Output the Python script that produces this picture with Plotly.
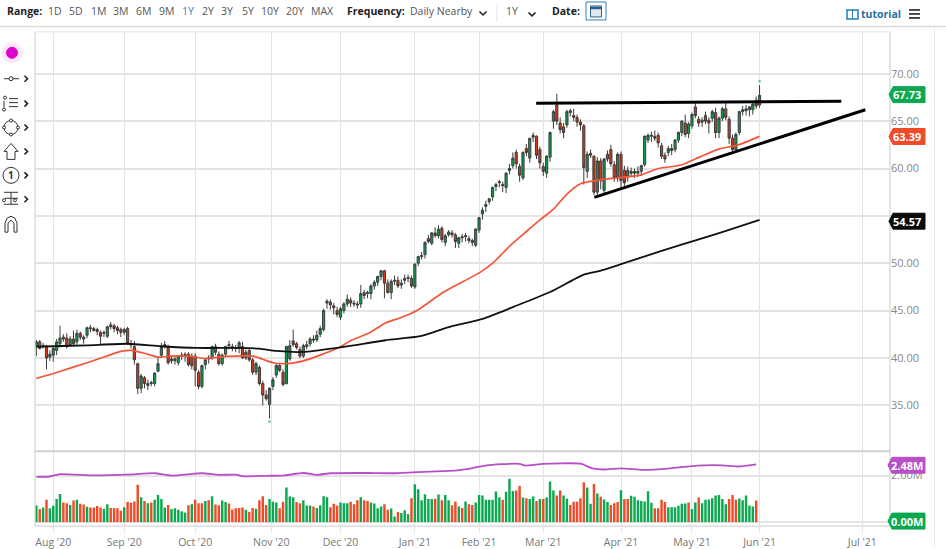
# Crude oil daily chart with moving averages, trend lines and a volume pane
import plotly.graph_objects as go

W = 946
H = 549

opens = [41.2,41.7,41.2,41.2,40.1,40.3,40.8,41.5,42.2,42.1,
         41.4,42.0,41.7,42.6,42.2,42.4,43.2,43.1,43.0,42.7,
         42.6,42.3,43.3,43.4,43.2,43.0,42.7,43.1,41.5,41.2,
         39.4,36.8,37.9,37.1,37.3,37.3,38.6,40.3,41.3,41.2,
         39.9,39.7,39.5,40.2,40.2,40.4,40.2,40.2,38.5,37.0,
         39.3,39.9,40.0,41.2,40.4,39.4,40.4,41.3,41.2,41.0,
         41.0,41.2,40.0,40.8,39.8,38.5,39.0,37.3,36.1,35.1,
         37.0,38.2,39.2,38.5,37.3,39.9,41.8,41.5,40.9,40.2,
         41.2,41.5,42.0,41.9,42.5,43.0,45.8,45.9,45.5,45.0,
         44.3,45.0,45.7,46.1,45.8,45.7,45.7,46.9,46.8,46.8,
         47.6,48.0,48.6,49.2,47.9,46.9,48.1,48.2,47.7,48.2,
         48.4,48.4,47.5,50.0,50.7,50.9,52.6,52.1,53.2,52.9,
         53.7,52.2,53.0,53.2,53.0,52.1,52.8,52.8,52.6,52.4,
         51.9,53.5,55.2,56.0,56.5,57.0,58.1,58.5,58.3,58.0,
         59.8,60.3,61.7,60.2,59.0,62.1,61.1,63.3,63.4,62.0,
         60.2,59.5,61.2,65.0,66.7,64.8,64.4,64.6,65.9,65.6,
         65.4,64.9,64.5,59.7,61.6,61.3,57.5,60.8,57.7,61.5,
         62.0,60.4,59.0,61.5,59.8,59.2,59.7,59.5,59.5,59.7,
         60.4,63.0,63.4,63.4,63.5,62.4,61.4,61.7,62.1,62.0,
         63.0,63.8,64.8,63.7,64.5,66.5,65.2,64.9,65.6,65.1,
         65.3,65.9,63.8,65.3,66.3,65.2,63.2,62.0,63.8,66.0,
         66.1,66.2,66.2,67.2,66.7]
highs = [41.9,41.9,41.6,41.4,40.8,41.2,42.0,43.4,42.5,42.6,
         42.3,42.9,43.0,42.8,42.4,43.3,43.5,43.3,43.2,42.9,
         42.9,43.4,43.8,43.6,43.4,43.2,43.2,43.3,41.9,41.8,
         39.5,38.3,38.1,37.7,37.6,38.5,40.0,41.6,41.8,41.4,
         40.3,40.1,40.3,40.6,40.6,40.6,40.5,40.5,38.7,39.3,
         40.0,40.3,41.3,41.5,40.7,40.5,41.3,41.8,41.5,41.4,
         41.8,41.7,40.9,41.1,40.0,39.6,39.2,37.6,36.6,36.9,
         38.0,39.4,39.4,38.8,41.3,41.9,43.0,41.7,41.2,41.5,
         41.8,42.2,42.4,42.9,43.4,45.2,46.2,46.2,45.8,45.4,
         45.4,45.9,46.7,46.4,46.1,46.0,47.7,47.2,47.1,47.8,
         48.2,48.7,49.3,49.3,48.3,48.3,48.7,48.6,48.3,48.8,
         48.8,48.7,50.0,50.8,51.2,52.3,53.0,53.3,53.8,54.0,
         53.9,53.1,53.5,53.5,53.2,52.8,53.1,53.2,52.9,52.6,
         53.7,54.9,55.9,56.6,56.9,58.1,58.5,58.8,58.6,59.6,
         60.5,61.7,62.0,60.5,61.8,62.6,63.2,63.8,63.5,62.3,
         60.6,61.4,63.9,66.2,67.9,65.4,64.8,66.2,66.3,66.3,
         65.7,65.2,64.7,61.8,62.0,61.4,61.2,61.1,61.1,61.9,
         62.5,60.8,61.7,61.8,60.3,60.2,60.1,60.0,60.2,60.4,
         63.5,63.7,63.9,64.0,63.8,62.7,61.7,62.4,62.6,63.1,
         63.9,65.1,65.7,64.9,65.9,66.9,65.5,65.4,66.0,65.4,
         66.2,66.4,65.5,66.5,67.1,65.5,63.6,63.8,66.1,66.6,
         66.7,66.6,66.9,67.6,68.8]
lows = [40.2,40.9,41.0,38.8,39.7,39.6,40.3,41.1,41.7,41.0,
        41.2,41.3,41.4,41.9,41.5,42.1,42.7,42.8,42.4,41.4,
        42.2,42.1,43.0,42.7,42.5,42.2,42.4,41.4,41.0,39.3,
        36.2,36.3,36.8,36.6,37.0,37.0,38.5,40.0,41.0,39.3,
        39.4,39.3,39.2,39.8,39.6,39.1,38.8,37.0,36.7,36.8,
        38.8,39.4,39.8,40.3,39.2,39.2,40.1,40.9,40.7,40.6,
        40.5,39.9,39.8,39.6,38.2,38.2,37.1,35.0,35.5,33.6,
        36.6,37.9,38.5,37.0,37.2,39.7,41.2,40.9,40.0,40.0,
        40.9,41.2,41.6,41.7,42.2,42.8,45.2,45.1,44.6,44.3,
        44.0,44.7,45.4,45.4,45.4,45.2,45.3,46.2,46.3,46.2,
        47.2,47.6,48.2,46.3,46.8,46.2,47.7,47.4,47.3,47.8,
        48.0,47.4,47.3,49.7,50.4,50.5,52.1,51.9,52.7,52.6,
        52.2,51.8,52.8,52.7,51.6,51.6,52.2,52.3,52.1,51.8,
        51.7,53.2,54.6,55.4,56.2,56.6,57.6,58.0,57.5,57.4,
        59.4,60.0,60.0,58.6,58.8,61.3,60.6,62.8,61.0,60.0,
        59.2,59.0,60.7,64.2,64.6,63.7,63.2,64.3,65.5,65.0,
        64.4,64.0,58.3,59.0,61.1,57.2,57.2,57.8,57.3,60.7,
        60.2,58.6,58.6,58.0,58.0,58.6,59.2,59.0,59.1,59.2,
        60.2,62.7,62.8,62.9,62.2,61.0,60.6,61.3,61.4,61.7,
        62.7,63.4,63.3,63.2,64.2,65.3,64.4,64.4,64.7,63.7,
        64.9,63.2,63.2,65.0,65.1,62.6,61.7,61.7,63.5,65.6,
        65.6,65.5,65.7,66.3,66.4]
closes = [41.7,41.0,41.3,40.0,40.4,41.0,41.7,42.1,42.0,41.2,
          42.0,41.5,42.6,42.2,42.0,43.2,43.1,42.9,42.8,42.3,
          42.7,43.3,43.5,43.1,42.9,42.7,43.0,41.5,41.4,39.8,
          36.8,38.1,37.3,37.3,37.4,38.4,39.4,41.2,41.4,39.5,
          39.7,39.9,40.2,40.3,40.4,39.3,39.2,38.7,37.0,39.2,
          39.8,40.0,41.2,40.6,39.4,40.3,41.2,41.4,41.0,41.1,
          41.6,40.0,40.6,39.8,38.5,39.4,37.3,36.1,35.7,36.8,
          37.7,39.2,38.7,37.2,41.2,41.3,41.4,41.1,40.2,41.3,
          41.4,42.0,41.9,42.4,43.1,45.0,46.0,45.6,45.3,44.6,
          45.2,45.7,46.2,45.8,45.7,45.6,46.8,46.6,46.9,47.6,
          48.0,48.6,49.2,47.9,46.9,48.1,48.2,47.6,47.9,48.4,
          48.5,47.6,49.9,50.7,50.8,52.2,52.3,53.2,52.9,53.6,
          52.5,52.9,53.3,53.0,52.3,52.7,52.7,52.9,52.4,52.2,
          53.6,54.8,55.6,56.2,56.8,58.0,58.3,58.6,58.2,59.5,
          60.0,61.1,60.5,59.3,61.7,61.7,63.2,63.5,61.4,60.6,
          59.7,61.3,63.8,66.0,65.0,64.1,63.8,66.0,66.1,65.4,
          64.9,64.6,60.1,61.5,61.4,57.5,60.8,58.7,61.0,61.0,
          60.5,59.0,61.5,58.7,58.5,59.8,59.5,59.7,59.7,60.3,
          63.4,63.5,63.5,63.2,62.7,61.3,61.0,62.1,61.9,63.0,
          63.8,65.0,63.6,64.7,65.7,65.6,64.8,65.1,65.0,64.8,
          66.0,63.8,65.3,66.3,65.4,63.2,62.0,63.6,66.0,66.2,
          66.3,66.5,66.8,66.6,67.73]

volumes = [0.71,0.56,0.63,0.96,0.60,0.70,0.99,1.21,0.84,0.81,
           0.74,0.93,0.96,0.79,0.76,0.66,0.63,0.63,0.69,0.63,
           0.57,0.77,0.61,0.61,0.60,0.49,0.64,0.86,0.83,0.89,
           1.60,1.07,0.91,0.81,0.84,0.96,1.17,0.99,0.63,0.74,
           0.56,0.60,0.53,0.46,0.41,0.73,0.77,0.96,0.81,0.81,
           0.91,0.94,1.11,0.76,0.73,0.93,0.86,0.80,0.54,0.60,
           0.61,0.63,0.53,0.44,0.61,0.57,0.94,1.11,0.74,0.99,
           0.87,0.84,0.60,0.87,1.49,1.10,1.07,0.86,0.81,0.94,
           0.71,0.71,0.67,0.61,0.73,1.11,1.07,0.64,0.79,0.70,
           0.84,0.81,0.81,0.87,0.77,0.94,1.07,0.94,0.91,0.84,
           0.80,0.60,0.67,0.77,0.53,0.59,0.24,0.43,0.39,0.51,
           0.34,1.03,1.63,1.41,0.94,1.20,0.99,0.99,1.00,1.19,
           0.94,1.16,0.94,0.73,0.89,0.67,0.61,0.89,0.77,0.74,
           0.84,1.16,1.14,0.96,0.96,0.96,1.31,1.07,0.96,1.30,
           1.86,1.34,1.36,1.56,1.06,1.03,0.99,1.10,0.91,0.99,
           0.99,1.06,1.74,1.36,1.14,1.36,1.14,1.00,0.74,0.87,
           0.87,1.03,1.71,1.49,0.79,1.64,1.23,1.09,0.97,0.86,
           0.74,0.81,0.86,1.37,0.99,0.99,1.13,1.09,0.94,0.91,
           0.89,1.33,0.83,0.60,0.60,0.96,0.86,0.64,0.64,0.64,
           0.70,0.79,0.80,0.84,0.56,0.84,1.06,0.81,0.96,0.97,
           1.03,1.14,1.17,0.99,0.77,0.99,1.17,0.96,1.01,0.94,
           1.14,0.71,0.67,0.93]
volume_dirs = list("grgrggggrr" "grgrrgrrrr" "ggrrrrgrrr" "rgrgrggggr"
                   "gggggrgrrr" "grgrrggrrr" "rrgrrgrrrg" "ggrrgggrrg"
                   "ggrggggrrr" "gggrrrgrrg" "gggrrggrgg" "grggggggrg"
                   "rggrrgrgrr" "ggggggggrg" "ggrrgrggrg" "rgggrrggrr"
                   "rrrggrgrgg" "rrrgrrgggg" "gggrrrrggg" "gggrggrggg"
                   "gggggrrrgg" "gggr")

# moving averages and average volume, read at the turning points
ma50_idx = [0,6,15,20,25,28,32,36,40,45,50,54,59,64,67,70,74,79,84,89.5,
            93.4,98.3,103.3,108.2,112.6,120.5,131.4,135.3,140.2,144.2,149.1,
            153,157,161,165.9,167.9,172.8,178.7,184.1,190.5,196.5,202.4,207.3,214]
ma50_vals = [37.84,38.47,39.5,40.1,40.7,40.8,40.5,40.1,40.2,40.2,39.94,40.1,40.2,40.2,39.87,39.5,39.4,39.7,40.3,41.1,
             41.9,42.6,43.7,44.3,45.0,46.96,49.06,50.1,51.86,53.1,54.6,
             55.7,57.3,58.4,58.75,58.87,59.05,59.3,60.0,60.34,61.25,62.1,62.44,63.39]
ma200_idx = [0,5,15,27,37,47.5,59,66,71,79,89.5,93.4,103.3,113.6,121.5,132.3,141.2,152,162,166.8,173,185,196.5,204.3,214]
ma200_vals = [41.2,41.24,41.34,41.5,41.24,41.06,41.06,40.99,40.74,40.64,41.1,41.3,41.87,42.3,43.2,44.16,45.4,46.96,48.8,49.2,49.9,51.3,52.57,53.45,54.57]
vol_avg_idx = [0,4,7,17,27,35,40,49,54,59,61,68,73,79,83,87,98,106,116,122,128,132,138,143,144.6,150,161,164.5,168,173,180,187.6,195.6,203,208,212,213]
vol_avg_vals = [1.94,1.96,2.06,2.01,2.04,2.1,2.0,2.1,2.03,2.04,1.97,1.99,2.0,2.11,2.03,2.1,2.11,2.1,2.17,2.2,2.29,2.41,2.49,2.5,2.43,2.5,2.51,2.31,2.26,2.31,2.24,2.31,2.43,2.44,2.39,2.46,2.48]

# hand drawn trend lines, as bar number and price
resistance_idx = [147.9, 238.2]
resistance_vals = [66.9, 67.1]
support_idx = [165.1, 245.3]
support_vals = [56.96, 66.2]

# small high / low markers
extreme_idx = [214, 69]
extreme_vals = [69.2, 33.3]

month_ticks = [5, 26, 47, 69.5, 90, 112, 131, 150, 173, 194, 214, 244.4]
month_labels = ["Aug '20", "Sep '20", "Oct '20", "Nov '20", "Dec '20", "Jan '21", "Feb '21",
                "Mar '21", "Apr '21", "May '21", "Jun '21", "Jul '21"]
price_ticks = [35, 40, 45, 50, 55, 60, 65, 70]
# 55.00 sits behind the black tag, same as 0.00M behind the green one
price_labels = ["35.00", "40.00", "45.00", "50.00", "", "60.00", "65.00", "70.00"]

range_buttons = ["1D", "5D", "1M", "3M", "6M", "9M", "1Y", "2Y", "3Y", "5Y", "10Y", "20Y", "MAX"]
range_button_x = [55, 76, 98, 120, 143, 166, 188, 208, 227, 248, 270, 295, 322]

FONT = "Open Sans"
GREEN = "#0aa84f"
RED = "#f04a28"
PURPLE = "#b84fc9"
GRID = "#e4e4e4"


def px(x):
    return x / W


def py(y):
    return 1 - y / H


def line(x0, y0, x1, y1, color="#333", width=1):
    return dict(type="line", xref="paper", yref="paper", x0=px(x0), y0=py(y0), x1=px(x1), y1=py(y1),
                line=dict(color=color, width=width))


def circle(cx, cy, r, fill="rgba(0,0,0,0)", color="#333", width=1):
    return dict(type="circle", xref="paper", yref="paper", x0=px(cx - r), y0=py(cy - r), x1=px(cx + r), y1=py(cy + r),
                fillcolor=fill, line=dict(color=color, width=width), layer="above")


def poly(points, fill="rgba(0,0,0,0)", color="#333", width=1, close=True):
    d = "M " + " L ".join(f"{px(a):.5f},{py(b):.5f}" for a, b in points)
    if close:
        d += " Z"
    return dict(type="path", xref="paper", yref="paper", path=d, fillcolor=fill,
                line=dict(color=color, width=width), layer="above")


def label(x, y, text, color="#444", size=11, anchor="center", bold=False):
    if bold:
        text = "<b>" + text + "</b>"
    return dict(x=px(x), y=py(y), xref="paper", yref="paper", text=text, showarrow=False,
                xanchor=anchor, yanchor="middle", font=dict(family=FONT, size=size, color=color))


def chevron_right(x, y):
    return poly([(x - 1.5, y - 3), (x + 1.5, y), (x - 1.5, y + 3)], color="#222", width=1.6, close=False)


def chevron_down(x, y):
    return poly([(x - 3.5, y - 1.5), (x, y + 2), (x + 3.5, y - 1.5)], color="#222", width=1.6, close=False)


def price_tag(y, fill):
    return poly([(889, y), (893, y - 8), (925, y - 8), (925, y + 8), (893, y + 8)], fill=fill, color=fill)


x_vals = list(range(len(closes)))

fig = go.Figure()
fig.add_trace(go.Candlestick(x=x_vals, open=opens, high=highs, low=lows, close=closes,
                             increasing=dict(fillcolor="#0b9c4c", line=dict(color="#3a3f3c", width=1)),
                             decreasing=dict(fillcolor="#d8381a", line=dict(color="#3f3a38", width=1)),
                             whiskerwidth=0, showlegend=False, yaxis="y", xaxis="x"))
fig.add_trace(go.Scatter(x=ma50_idx, y=ma50_vals, mode="lines", line=dict(color="#f4553a", width=1.7, shape="spline", smoothing=0.6), yaxis="y", xaxis="x"))
fig.add_trace(go.Scatter(x=ma200_idx, y=ma200_vals, mode="lines", line=dict(color="#111", width=1.8, shape="spline", smoothing=0.6), yaxis="y", xaxis="x"))
fig.add_trace(go.Scatter(x=resistance_idx, y=resistance_vals, mode="lines", line=dict(color="#000", width=3), yaxis="y", xaxis="x"))
fig.add_trace(go.Scatter(x=support_idx, y=support_vals, mode="lines", line=dict(color="#000", width=3), yaxis="y", xaxis="x"))
fig.add_trace(go.Scatter(x=extreme_idx, y=extreme_vals, mode="markers", marker=dict(color="#5cc98a", size=2.5), yaxis="y", xaxis="x"))

vol_colors = [GREEN if d == "g" else RED for d in volume_dirs]
fig.add_trace(go.Bar(x=x_vals[:len(volumes)], y=volumes, marker=dict(color=vol_colors, line=dict(width=0)),
                     width=0.72, yaxis="y2", xaxis="x2"))
fig.add_trace(go.Scatter(x=vol_avg_idx, y=vol_avg_vals, mode="lines", line=dict(color=PURPLE, width=1.8, shape="spline", smoothing=0.5), yaxis="y2", xaxis="x2"))

x_common = dict(range=[-0.4, 252.6], tickmode="array", tickvals=month_ticks, gridcolor=GRID, gridwidth=1.3,
                zeroline=False, rangeslider=dict(visible=False), domain=[px(35), px(890)], showline=False)

shapes = [
    line(0, 26.5, 946, 26.5, "#dcdcdc", 1.5),
    line(497, 4, 497, 22, "#e2e2e2", 1),
    line(934.5, 27, 934.5, 549, "#e8e8e8", 1),
    line(35, 32, 890, 32, "#e4e4e4", 1),
    line(35, 32, 35, 528, "#d8d8d8", 1.3),
    line(890, 32, 890, 528, "#d8d8d8", 1.3),
    line(35, 453, 890, 453, "#cfcfcf", 2),
    line(35, 528, 890, 528, "#dcdcdc", 1.5),
    # calendar button
    dict(type="rect", xref="paper", yref="paper", x0=px(586), y0=py(2), x1=px(606), y1=py(20),
         line=dict(color="#2f7fbd", width=1)),
    dict(type="rect", xref="paper", yref="paper", x0=px(590.5), y0=py(6), x1=px(601.5), y1=py(17),
         fillcolor="#dfe9f2", line=dict(color="#2f5f8f", width=1)),
    line(590.5, 8, 601.5, 8, "#2f5f8f", 2.5),
    # tutorial logo and menu
    dict(type="rect", xref="paper", yref="paper", x0=px(847), y0=py(10), x1=px(858), y1=py(19),
         line=dict(color="#1f7fb5", width=1.5)),
    line(852.5, 10, 852.5, 19, "#1f7fb5", 1),
    line(909, 10, 920, 10, "#222", 1.6),
    line(909, 14, 920, 14, "#222", 1.6),
    line(909, 18, 920, 18, "#222", 1.6),
    chevron_down(483, 13),
    chevron_down(532, 14),
    # drawing toolbar on the left
    circle(12, 53, 10, fill="#fbe6fb", color="#fbe6fb"),
    circle(12, 53, 5.5, fill="#e000d0", color="#e000d0"),
    line(4, 79, 19, 79), circle(11, 79, 2, fill="#fff"),
    line(9, 99, 18, 99), line(9, 103, 18, 103), line(9, 107, 18, 107), line(4, 101, 4, 108),
    circle(4, 110, 1.5), circle(5, 98, 1.5),
    circle(11, 128, 7), circle(11, 121, 1.5, fill="#fff"), circle(11, 135, 1.5, fill="#fff"),
    circle(4, 128, 1.5, fill="#fff"), circle(18, 128, 1.5, fill="#fff"),
    poly([(11, 144), (18, 152), (15, 152), (15, 160), (7, 160), (7, 152), (4, 152)]),
    circle(11, 176, 8),
    line(4, 193, 18, 193), line(5, 199, 18, 199), line(4, 205, 18, 205), line(11, 193, 11, 205),
    circle(4, 201, 1.5), circle(15, 201, 1.5),
    poly([(5, 233), (5, 224), (7, 219), (11, 217), (15, 219), (17, 224), (17, 233), (14, 233), (14, 224), (11, 221),
          (8, 224), (8, 233)]),
    # value tags on the right
    price_tag(95, GREEN),
    price_tag(137, RED),
    price_tag(222, "#0a0a0a"),
    poly([(888, 467), (892, 459), (925, 459), (925, 475), (892, 475)], fill=PURPLE, color=PURPLE),
    poly([(888, 523), (892, 515), (925, 515), (925, 531), (892, 531)], fill=GREEN, color=GREEN),
]
for icon_y in [79, 104, 128, 152, 176, 200]:
    shapes.append(chevron_right(26, icon_y))

annotations = [
    label(5, 11, "Range:", "#222", 10.5, "left", True),
    label(345, 11, "Frequency:", "#222", 10.5, "left", True),
    label(408, 11, "Daily Nearby", "#555", 10.5, "left"),
    label(512, 11, "1Y", "#555", 10.5),
    label(550, 11, "Date:", "#222", 10.5, "left", True),
    label(859, 14.5, "tutorial", "#1f6f9f", 10.5, "left", True),
    label(11, 176, "1", "#333", 10, "center", True),
    label(907, 95, "67.73", "#fff", 11, "center", True),
    label(907, 137, "63.39", "#fff", 11, "center", True),
    label(907, 222, "54.57", "#fff", 11, "center", True),
    label(907, 467, "2.48M", "#fff", 11, "center", True),
    label(907, 523, "0.00M", "#fff", 11, "center", True),
]
for name, bx in zip(range_buttons, range_button_x):
    annotations.append(label(bx, 11, name, "#1f86c7" if name == "1Y" else "#555", 10.5))

fig.update_layout(
    width=W, height=H, autosize=False, margin=dict(l=0, r=0, t=0, b=0),
    paper_bgcolor="#fff", plot_bgcolor="#fff", showlegend=False, bargap=0.25, hovermode=False,
    boxgap=0.2, boxgroupgap=0.2,
    xaxis=dict(**x_common, anchor="y", showticklabels=False, ticks=""),
    xaxis2=dict(**x_common, anchor="y2", matches="x", ticktext=month_labels, ticks="outside", ticklen=6,
                tickcolor=GRID, tickfont=dict(family=FONT, size=10.5, color="#777")),
    yaxis=dict(domain=[py(452), py(32)], range=[30.25, 74.42], side="right", anchor="x", tickmode="array",
               tickvals=price_ticks, ticktext=price_labels, gridcolor=GRID, gridwidth=1.5, zeroline=False,
               tickfont=dict(family=FONT, size=11, color="#888"), ticks=""),
    yaxis2=dict(domain=[py(528), py(453)], range=[-0.17, 3.04], side="right", anchor="x2", tickmode="array",
                tickvals=[0, 2], ticktext=["", "2.00M"], gridcolor=GRID, gridwidth=1.5, zeroline=False,
                tickfont=dict(family=FONT, size=11, color="#888"), ticks=""),
    shapes=shapes, annotations=annotations,
)

fig.write_html("out.html", config=dict(displayModeBar=False),
               post_script="document.body.style.margin='0';document.body.style.overflow='hidden';")
